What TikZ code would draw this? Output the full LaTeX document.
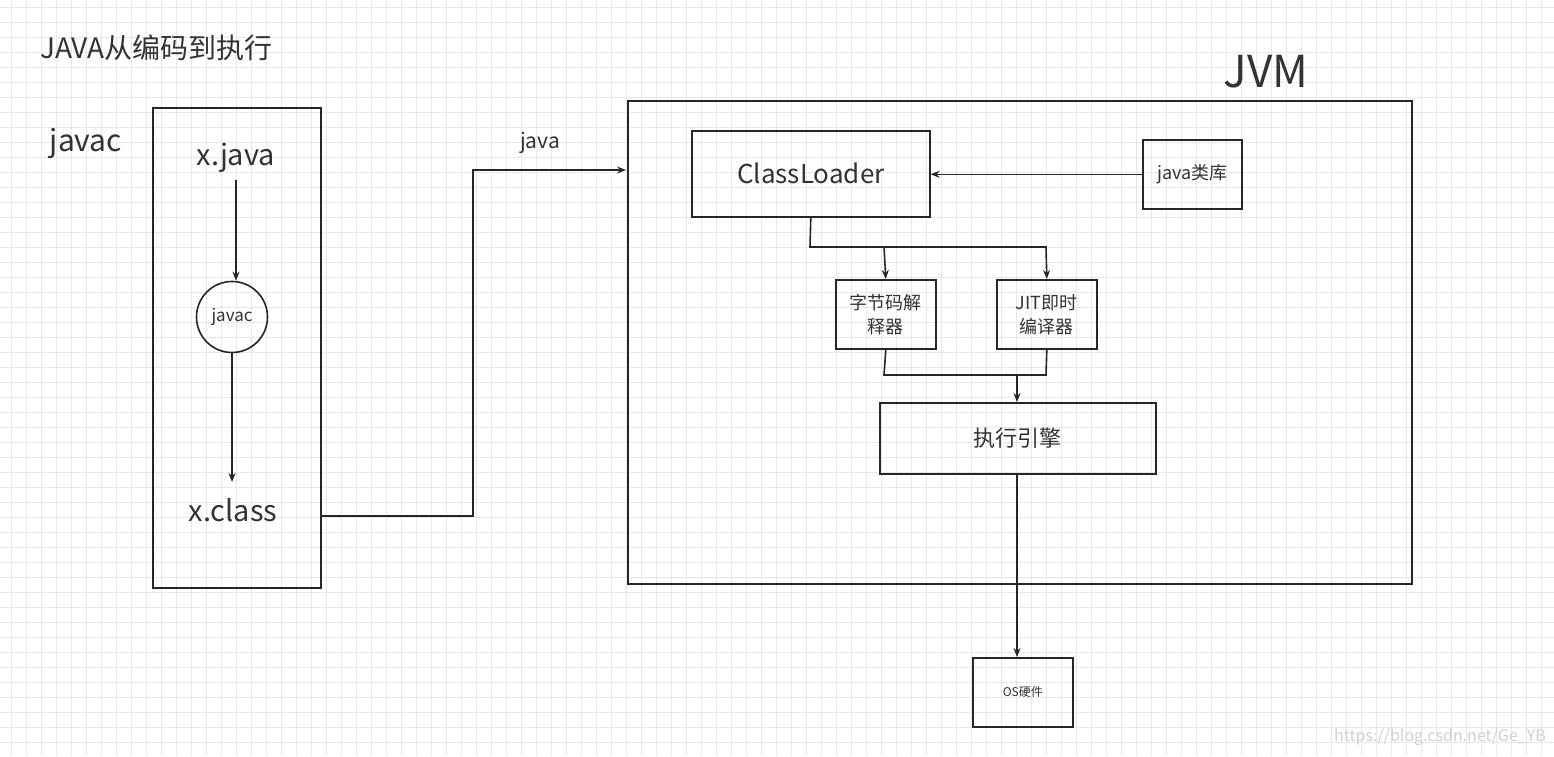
\documentclass[tikz,border=0pt]{standalone}
\usepackage{fontspec}
\setmainfont{Noto Sans CJK SC}
\usetikzlibrary{arrows.meta}
\begin{document}
\begin{tikzpicture}[x=1pt,y=-1pt,
  box/.style={draw=black!85,line width=1.6pt},
  ln/.style={draw=black!85,line width=1.6pt},
  ar/.style={ln,-{Stealth[length=9pt,width=7pt]}},
  txt/.style={text=black!80,inner sep=0pt}]
\useasboundingbox (0,0) rectangle (1554,756);
\fill[white] (0,0) rectangle (1554,756);
\foreach \x in {11,26,...,1554} \draw[black!9,line width=0.9pt] (\x,0) -- (\x,756);
\foreach \y in {7,22,...,756} \draw[black!9,line width=0.9pt] (0,\y) -- (1554,\y);
\node[txt,anchor=west,font=\fontsize{28}{32}\selectfont] (title) at (40,48) {JAVA从编码到执行};
\node[txt,font=\fontsize{30}{34}\selectfont] (jl) at (86,143) {javac};
\draw[box] (153,108) rectangle (321,588);
\node[txt,font=\fontsize{29}{34}\selectfont] (xj) at (236,158) {x.java};
\node[draw=black!85,line width=1.6pt,circle,minimum size=71pt,inner sep=0pt,font=\fontsize{17}{20}\selectfont,text=black!80] (jc) at (232,317) {javac};
\node[txt,font=\fontsize{29}{34}\selectfont] (xc) at (233,510) {x.class};
\draw[ar] (236,180) -- (jc.north -| 236,0);
\draw[ar] (jc.south) -- (232,482);
\node[box,minimum width=784pt,minimum height=483pt,anchor=north west] (jvm) at (627,100) {};
\node[txt,font=\fontsize{44}{50}\selectfont] (jt) at (1266,72) {JVM};
\coordinate (xo) at (321,516);
\coordinate (ji) at (626,170);
\draw[ar] (xo) -- (473,516) -- (473,170) -- (ji);
\node[txt,font=\fontsize{21}{24}\selectfont] (jv) at (540,143) {java};
\node[box,minimum width=238pt,minimum height=86pt,anchor=north west,font=\fontsize{26}{30}\selectfont,text=black!80] (cl) at (691,130) {ClassLoader};
\node[box,minimum width=99pt,minimum height=69pt,anchor=north west,font=\fontsize{18}{22}\selectfont,text=black!80] (lib) at (1142,139) {java类库};
\draw[ar] (lib.west) -- (cl.east |- lib.west);
\node[box,minimum width=100pt,minimum height=69pt,anchor=north west,font=\fontsize{18}{24}\selectfont,text=black!80,align=center] (interp) at (835,279) {字节码解\\释器};
\node[box,minimum width=100pt,minimum height=69pt,anchor=north west,font=\fontsize{18}{24}\selectfont,text=black!80,align=center] (jit) at (996,279) {JIT即时\\编译器};
\draw[ln] (cl.south) -- (810,247) -- (884,247);
\draw[ar] (884,247) -- (interp.north);
\draw[ar] (884,247) -- (1046,247) -- (jit.north);
\node[box,minimum width=276pt,minimum height=71pt,anchor=north west,font=\fontsize{22}{26}\selectfont,text=black!80] (eng) at (879,402) {执行引擎};
\draw[ln] (interp.south) -- (884,375) -- (1046,375) -- (jit.south);
\draw[ar] (1017,375) -- (eng.north -| 1017,0);
\node[box,minimum width=100pt,minimum height=69pt,anchor=north west,font=\fontsize{12}{14}\selectfont,text=black!80] (os) at (972,657) {OS硬件};
\draw[ar] (eng.south -| 1017,0) -- (os.north -| 1017,0);
\node[text=black!18,anchor=east,font=\fontsize{16}{18}\selectfont,inner sep=0pt] (wm) at (1546,737) {https://blog.csdn.net/Ge\_YB};
\end{tikzpicture}
\end{document}
